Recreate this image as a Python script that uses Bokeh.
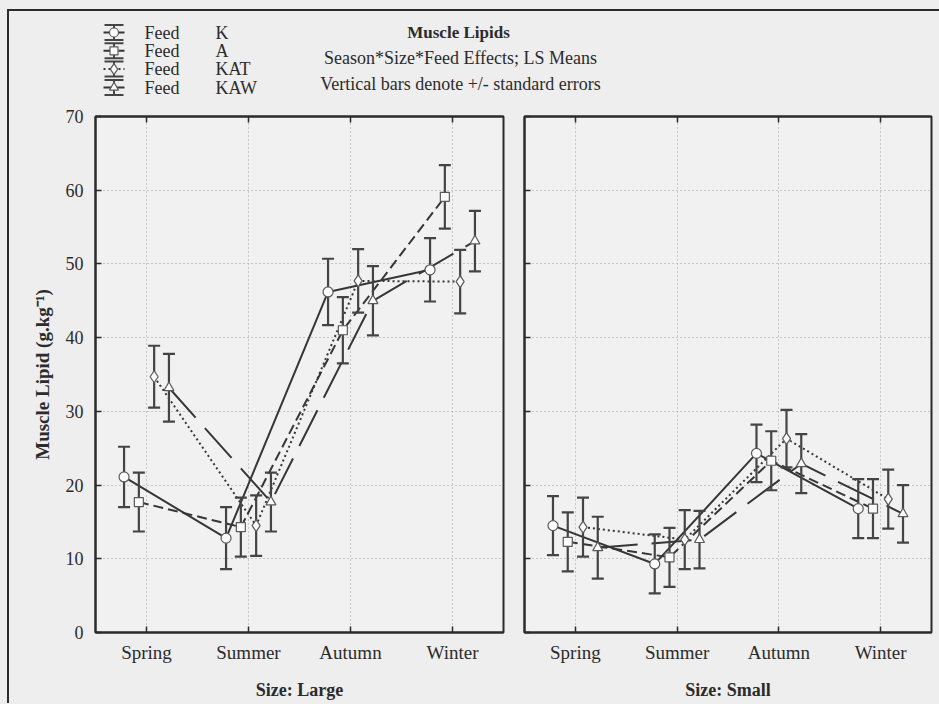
from bokeh.plotting import figure
from bokeh.models import Range1d, FixedTicker, LinearAxis, CustomLabelingPolicy
from bokeh.layouts import column, row
from bokeh.embed import file_html
from bokeh.resources import INLINE
from bokeh.core.properties import value

seasons = ["Spring", "Summer", "Autumn", "Winter"]
feeds = ["K", "A", "KAT", "KAW"]

# LS means of muscle lipid (g/kg) with standard errors, large fish
large_k = [21.1, 12.8, 46.2, 49.2]
large_k_se = [4.1, 4.2, 4.5, 4.3]
large_a = [17.7, 14.3, 41.0, 59.1]
large_a_se = [4.0, 4.0, 4.5, 4.3]
large_kat = [34.7, 14.5, 47.7, 47.6]
large_kat_se = [4.2, 4.1, 4.3, 4.3]
large_kaw = [33.2, 17.7, 45.0, 53.1]
large_kaw_se = [4.6, 4.0, 4.7, 4.1]

# small fish
small_k = [14.5, 9.3, 24.3, 16.8]
small_k_se = [4.0, 4.0, 3.9, 4.0]
small_a = [12.3, 10.2, 23.3, 16.8]
small_a_se = [4.0, 4.0, 4.0, 4.0]
small_kat = [14.3, 12.6, 26.3, 18.1]
small_kat_se = [4.0, 4.0, 3.9, 4.0]
small_kaw = [11.5, 12.6, 22.9, 16.1]
small_kaw_se = [4.2, 3.9, 4.0, 3.9]

y_ticks = [0, 10, 20, 30, 40, 50, 60, 70]

FONT = "Liberation Serif"
INK = "#2b2b2b"
LINE = "#363636"
BAR = "#444444"
PAPER = "#eeeeee"
PANEL = "#f1f1f1"

dashes = {"K": "solid", "A": "10 5", "KAT": "2 3", "KAW": "40 14"}
markers = {"K": "circle", "A": "square", "KAT": "diamond", "KAW": "triangle"}
marker_sizes = {"K": 10, "A": 9, "KAT": 12, "KAW": 10}
offsets = {"K": -0.22, "A": -0.075, "KAT": 0.075, "KAW": 0.22}

PANEL_H = 597

# tick marks only: drop every label of an axis
NO_LABELS = CustomLabelingPolicy(code="""
    for (const i of [...indices]) { indices.unset(i) }
    return indices
""")


def style_axis(ax, ticks, font_size="18px"):
    ax.ticker = FixedTicker(ticks=ticks)
    ax.major_tick_in = 6
    ax.major_tick_out = 0
    ax.minor_tick_line_color = None
    ax.major_tick_line_color = INK
    ax.major_tick_line_width = 1.5
    ax.axis_line_color = INK
    ax.axis_line_width = 2
    ax.major_label_text_font = FONT
    ax.major_label_text_font_size = font_size
    ax.major_label_text_color = INK


def panel(width, border_left, border_right, means, ses, size_label, show_y_labels):
    p = figure(width=width, height=PANEL_H,
               x_range=Range1d(-0.5, 3.5), y_range=Range1d(0, 70),
               output_backend="svg", toolbar_location=None,
               min_border_left=border_left, min_border_right=border_right,
               min_border_top=9, min_border_bottom=72,
               background_fill_color=PANEL, border_fill_color=PAPER,
               outline_line_color=INK, outline_line_width=2)

    season_pos = list(range(len(seasons)))

    xa = p.xaxis[0]
    style_axis(xa, season_pos, "19px")
    xa.major_label_overrides = {i: s for i, s in enumerate(seasons)}
    xa.major_label_standoff = 9
    xa.axis_label = size_label
    xa.axis_label_text_font = FONT
    xa.axis_label_text_font_size = "18px"
    xa.axis_label_text_font_style = "bold"
    xa.axis_label_text_color = INK
    xa.axis_label_standoff = 14

    ya = p.yaxis[0]
    if show_y_labels:
        style_axis(ya, y_ticks)
        ya.major_label_standoff = 12
        ya.axis_label = "Muscle Lipid (g.kg\u207b\u00b9)"
        ya.axis_label_text_font = FONT
        ya.axis_label_text_font_size = "19px"
        ya.axis_label_text_font_style = "bold"
        ya.axis_label_text_color = INK
        ya.axis_label_standoff = 10
    else:
        style_axis(ya, y_ticks, "1px")
        ya.major_label_policy = NO_LABELS
        ya.major_label_standoff = 0

    top = LinearAxis()
    style_axis(top, season_pos, "1px")
    top.major_label_policy = NO_LABELS
    top.major_label_standoff = 0
    p.add_layout(top, "above")

    for g in (p.xgrid[0], p.ygrid[0]):
        g.grid_line_color = "#9a9a9a"
        g.grid_line_dash = "1 3"
        g.grid_line_width = 1
    p.xgrid[0].ticker = FixedTicker(ticks=season_pos)
    p.ygrid[0].ticker = FixedTicker(ticks=y_ticks)

    xs = {f: [j + offsets[f] for j in season_pos] for f in feeds}

    for f in feeds:
        p.line(xs[f], means[f], line_color=LINE, line_width=2, line_dash=dashes[f])

    for f in feeds:
        lo = [m - s for m, s in zip(means[f], ses[f])]
        hi = [m + s for m, s in zip(means[f], ses[f])]
        p.segment(xs[f], lo, xs[f], hi, line_color=BAR, line_width=2.2)
        p.scatter(xs[f] + xs[f], lo + hi, marker="dash", size=12,
                  line_color=BAR, line_width=2.2)

    for f in feeds:
        p.scatter(xs[f], means[f], marker=markers[f], size=marker_sizes[f],
                  fill_color="#fbfbfb", line_color="#5a5a5a", line_width=1.2)
    return p


large_means = {"K": large_k, "A": large_a, "KAT": large_kat, "KAW": large_kaw}
large_ses = {"K": large_k_se, "A": large_a_se, "KAT": large_kat_se, "KAW": large_kaw_se}
small_means = {"K": small_k, "A": small_a, "KAT": small_kat, "KAW": small_kaw}
small_ses = {"K": small_k_se, "A": small_a_se, "KAT": small_kat_se, "KAW": small_kaw_se}

left = panel(512, 95, 9, large_means, large_ses, "Size: Large", True)
right = panel(427, 12, 8, small_means, small_ses, "Size: Small", False)

# Header: feed key on the left, titles in the middle
HEAD_H = 107
head = figure(width=939, height=HEAD_H, x_range=Range1d(0, 939), y_range=Range1d(HEAD_H, 0),
              output_backend="svg", toolbar_location=None,
              x_axis_location=None, y_axis_location=None, min_border=0,
              background_fill_color=PAPER, border_fill_color=PAPER, outline_line_color=None)
head.grid.visible = False

key_x = 113.5
key_rows = [32, 50.3, 68.6, 87]
for f, ky in zip(feeds, key_rows):
    head.segment([103], [ky], [124], [ky], line_color=LINE, line_width=2, line_dash=dashes[f])
    head.segment([key_x], [ky - 7.5], [key_x], [ky + 7.5], line_color=BAR, line_width=2)
    head.segment([104, 104], [ky - 7.5, ky + 7.5], [123, 123], [ky - 7.5, ky + 7.5],
                 line_color=BAR, line_width=2)
    head.scatter([key_x], [ky], marker=markers[f], size=marker_sizes[f] - 1,
                 fill_color="#fbfbfb", line_color="#5a5a5a", line_width=1.2)
head.text([144] * 4, key_rows, text=["Feed"] * 4, text_font=value(FONT),
          text_font_size="18px", text_color=INK, text_baseline="middle", text_align="left")
head.text([215] * 4, key_rows, text=feeds, text_font=value(FONT),
          text_font_size="18px", text_color=INK, text_baseline="middle", text_align="left")

head.text([458], [32], text=["Muscle Lipids"], text_font=value(FONT), text_font_size="17px",
          text_font_style="bold", text_color=INK, text_baseline="middle", text_align="center")
head.text([460, 460], [57, 83],
          text=["Season*Size*Feed Effects; LS Means", "Vertical bars denote +/- standard errors"],
          text_font=value(FONT), text_font_size="18px", text_color=INK,
          text_baseline="middle", text_align="center")

page = column(head, row(left, right, spacing=0), spacing=0)

# paper colour behind the layout and the page frame drawn round it
TEMPLATE = """
{% block preamble %}
<style>
html, body { margin: 0; padding: 0; background: #eeeeee; overflow: hidden; }
body::after {
  content: ""; position: fixed; left: 7px; top: 9px; width: 960px; height: 692px;
  border-left: 2px solid #2b2b2b; border-top: 2px solid #2b2b2b;
  pointer-events: none; z-index: 10;
}
</style>
{% endblock %}
"""

with open("out.html", "w") as fh:
    fh.write(file_html(page, INLINE, title="Muscle Lipids", template=TEMPLATE))
